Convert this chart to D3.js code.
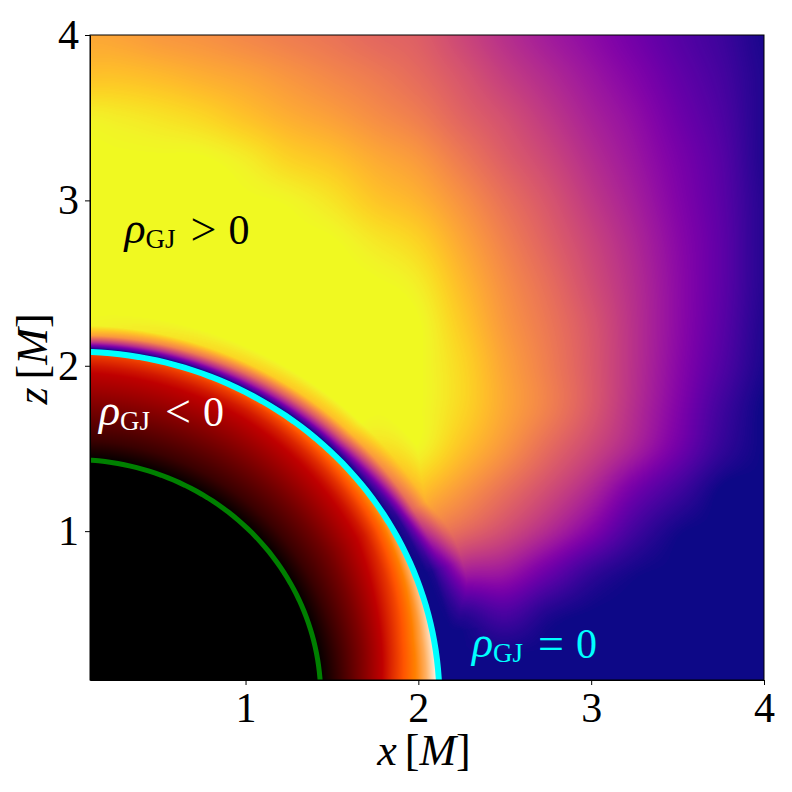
<!DOCTYPE html>
<html><head><meta charset="utf-8">
<script src="https://cdn.jsdelivr.net/npm/d3@7"></script>
<style>html,body{margin:0;padding:0;background:#fff}svg{display:block}text{font-family:"Liberation Serif",serif}</style>
</head><body><svg id="c" width="792" height="792"></svg>
<script>
// --- data ---
const tickValues = [1, 2, 3, 4];
const gridX = [0.1,0.25,0.5,0.75,1,1.25,1.5,1.75,2,2.25,2.5,2.75,3,3.25,3.5,3.75,4];
const gridZ = [4,3.75,3.5,3.25,3,2.75,2.5,2.25,2,1.75,1.5,1.25,1,0.75,0.5,0.25,0.1];
// outer region: colour level per (z row, x column)
const outerLevel = [
[.80,.79,.76,.74,.71,.68,.65,.61,.58,.50,.42,.35,.29,.22,.15,.09,.02],
[.87,.87,.85,.82,.79,.75,.71,.67,.62,.55,.47,.40,.33,.26,.18,.11,.03],
[.98,.97,.95,.92,.87,.82,.78,.73,.68,.60,.53,.45,.37,.30,.21,.13,.03],
[1,1,1,1,.97,.91,.87,.81,.76,.67,.58,.50,.41,.33,.24,.15,.03],
[1,1,1,1,1,.99,.95,.88,.83,.74,.64,.55,.45,.36,.26,.16,.04],
[1,1,1,1,1,1,1,.96,.91,.80,.69,.59,.49,.39,.28,.17,.04],
[1,1,1,1,1,1,1,1,.97,.85,.73,.63,.52,.41,.29,.17,.04],
[1,1,1,1,1,1,1,1,1,.89,.76,.66,.55,.42,.29,.16,.03],
[1,1,1,1,1,1,1,1,1,.92,.79,.68,.56,.42,.28,.14,.02],
[1,1,1,1,1,1,1,1,1,.92,.80,.69,.56,.41,.26,.10,0],
[1,1,1,1,1,1,1,1,.99,.87,.75,.62,.50,.37,.22,.07,0],
[1,1,1,1,1,1,1,1,.88,.76,.64,.52,.39,.22,.10,0,0],
[1,1,1,1,1,1,1,.95,.72,.62,.52,.40,.26,.10,.01,0,0],
[1,1,1,1,1,1,.9,.75,.5,.36,.33,.20,.07,.01,0,0,0],
[1,1,1,1,1,.9,.6,.3,.1,.05,.12,.03,0,0,0,0,0],
[1,1,1,1,.8,.5,.2,.05,0,0,0,0,0,0,0,0,0],
[1,1,1,.8,.5,.2,.05,0,0,0,0,0,0,0,0,0,0]
];
// ceiling on the outer level next to the cyan curve, per (angle from z axis, distance from curve)
const bandAngle = [0,30,45,60,70,80,90];
const bandDist = [.018,.035,.06,.1,.16,.25,.4];
const bandLevel = [
[0,.2,.45,.8,1,1,1],
[0,.15,.35,.6,.9,1,1],
[0,.1,.3,.55,.85,1,1],
[0,.02,.05,.25,.6,.82,1],
[0,0,0,.02,.15,.36,.7],
[0,0,0,0,0,.02,.1],
[0,0,0,0,0,0,0]
];
// inner region: colour level per (angle from z axis, radius)
const innerAngle = [0,30,60,80,90];
const innerRadius = [1.4,1.45,1.55,1.7,1.85,1.95,2.0,2.05,2.1,2.13];
const innerLevel = [
[0,.02,.15,.28,.41,.49,.54,.6,.66,.7],
[0,.02,.15,.28,.41,.5,.55,.62,.72,.75],
[0,.02,.15,.29,.45,.55,.62,.7,.8,.85],
[0,.02,.15,.34,.55,.68,.75,.83,.94,.97],
[0,.02,.16,.38,.6,.72,.78,.86,.97,1]
];
const curveAngle = [0,30,60,90];
const horizonRadius = [2.085,2.095,2.11,2.122];
const ergoRadius = [1.433,1.433,1.434,1.435];
const xTitle = "x", zTitle = "z", unit = "M";
const annotations = [
 {x:0.3, z:2.74, op:">", color:"#000"},
 {x:0.152, z:1.64, op:"<", color:"#fff"},
 {x:2.31, z:0.24, op:"=", color:"#00ffff"}
];

// --- chart ---
const svg = d3.select("#c");
const L=90,R=764,T=35,B=680;
const x = d3.scaleLinear().domain([0.1,4]).range([L,R]);
const y = d3.scaleLinear().domain([0.1,4]).range([B,T]);

function lookup1(arr,v){
  let i = d3.bisectRight(arr,v)-1;
  i = Math.max(0,Math.min(arr.length-2,i));
  let t = (v-arr[i])/(arr[i+1]-arr[i]);
  return [i,Math.max(0,Math.min(1,t))];
}
function table(rows,a,b,u,v){
  const [i,s]=lookup1(a,u),[j,t]=lookup1(b,v);
  const p=rows[i][j]+(rows[i][j+1]-rows[i][j])*t;
  const q=rows[i+1][j]+(rows[i+1][j+1]-rows[i+1][j])*t;
  return p+(q-p)*s;
}
function cr(p0,p1,p2,p3,t){
  return p1+.5*t*(p2-p0+t*(2*p0-5*p1+4*p2-p3+t*(3*(p1-p2)+p3-p0)));
}
function smooth(rows,a,b,u,v){
  const [i,s]=lookup1(a,u),[j,t]=lookup1(b,v);
  const n=a.length-1,m=b.length-1,ci=k=>Math.max(0,Math.min(n,k)),cj=k=>Math.max(0,Math.min(m,k));
  const at=r=>cr(rows[r][cj(j-1)],rows[r][j],rows[r][j+1],rows[r][cj(j+2)],t);
  return cr(at(ci(i-1)),at(i),at(i+1),at(ci(i+2)),s);
}
const ascZ = gridZ.slice().reverse();
const ascRows = outerLevel.slice().reverse();
const radiusAt = (arr,deg)=>{const [i,t]=lookup1(curveAngle,deg);return arr[i]+(arr[i+1]-arr[i])*t;};
function gistHeat(v){
  const c=k=>Math.round(255*Math.max(0,Math.min(1,k)));
  return [c(1.5*v),c(2*v-1),c(4*v-3)];
}
const W=R-L,H=B-T;
const cv=document.createElement("canvas");cv.width=W;cv.height=H;
const ctx=cv.getContext("2d");const img=ctx.createImageData(W,H);
const plasmaCache=d3.range(1025).map(i=>{const c=d3.rgb(d3.interpolatePlasma(i/1024));return [c.r,c.g,c.b];});
for(let py=0;py<H;py++){for(let px=0;px<W;px++){
  const xv=x.invert(L+px+.5),zv=y.invert(T+py+.5);
  const r=Math.hypot(xv,zv),deg=Math.atan2(xv,zv)*180/Math.PI;
  const rh=radiusAt(horizonRadius,deg);
  let col;
  if(r<rh){
    col=gistHeat(table(innerLevel,innerAngle,innerRadius,deg,r));
  }else{
    const base=Math.max(0,Math.min(1,smooth(ascRows,ascZ,gridX,zv,xv)));
    const ceil=table(bandLevel,bandAngle,bandDist,deg,r-rh);
    col=plasmaCache[Math.round(Math.min(base,ceil)*1024)];
  }
  const k=4*(py*W+px);
  img.data[k]=col[0];img.data[k+1]=col[1];img.data[k+2]=col[2];img.data[k+3]=255;
}}
ctx.putImageData(img,0,0);
svg.append("image").attr("x",L).attr("y",T).attr("width",W).attr("height",H).attr("href",cv.toDataURL());

svg.append("clipPath").attr("id","plot").append("rect").attr("x",L).attr("y",T).attr("width",W).attr("height",H);
const angles=d3.range(0,90.5,1.5);
const curve=arr=>d3.line()
  .x(d=>x(radiusAt(arr,d)*Math.sin(d*Math.PI/180)))
  .y(d=>y(radiusAt(arr,d)*Math.cos(d*Math.PI/180)))(angles);
svg.append("path").attr("d",curve(ergoRadius)).attr("fill","none").attr("stroke","#008000").attr("stroke-width",5).attr("clip-path","url(#plot)");
svg.append("path").attr("d",curve(horizonRadius)).attr("fill","none").attr("stroke","#00ffff").attr("stroke-width",6).attr("clip-path","url(#plot)");

const ax=svg.append("g").attr("transform",`translate(0,${B})`).call(d3.axisBottom(x).tickValues(tickValues).tickSize(5).tickSizeOuter(0).tickPadding(7).tickFormat(d3.format("d")));
const ay=svg.append("g").attr("transform",`translate(${L},0)`).call(d3.axisLeft(y).tickValues(tickValues).tickSize(5).tickSizeOuter(0).tickPadding(6).tickFormat(d3.format("d")));
[ax,ay].forEach(g=>{g.selectAll("text").attr("font-size",42).attr("fill","#000").style("font-family",'"Liberation Serif",serif');g.selectAll("line,path").attr("stroke","#000").attr("stroke-width",1);});
svg.append("rect").attr("x",L).attr("y",T).attr("width",W).attr("height",H).attr("fill","none").attr("stroke","#000").attr("stroke-width",1);

function title(sel,name){
  sel.attr("font-size",44).attr("fill","#000");
  sel.append("tspan").attr("font-style","italic").text(name);
  sel.append("tspan").attr("dx",8).text("[");
  sel.append("tspan").attr("font-style","italic").text(unit);
  sel.append("tspan").text("]");
}
title(svg.append("text").attr("x",424).attr("y",765).attr("text-anchor","middle"),xTitle);
title(svg.append("text").attr("transform","translate(47,359) rotate(-90)").attr("text-anchor","middle"),zTitle);

annotations.forEach(a=>{
  const t=svg.append("text").attr("x",x(a.x)).attr("y",y(a.z)).attr("fill",a.color).attr("font-size",42);
  t.append("tspan").attr("font-style","italic").attr("font-size",44).text("ρ");
  t.append("tspan").attr("x",x(a.x)+21).attr("dy",5).attr("font-size",27).text("GJ");
  t.append("tspan").attr("x",x(a.x)+66).attr("dy",-3).attr("font-size",46).text(a.op);
  t.append("tspan").attr("x",x(a.x)+104).attr("dy",-1).text("0");
});
</script></body></html>
